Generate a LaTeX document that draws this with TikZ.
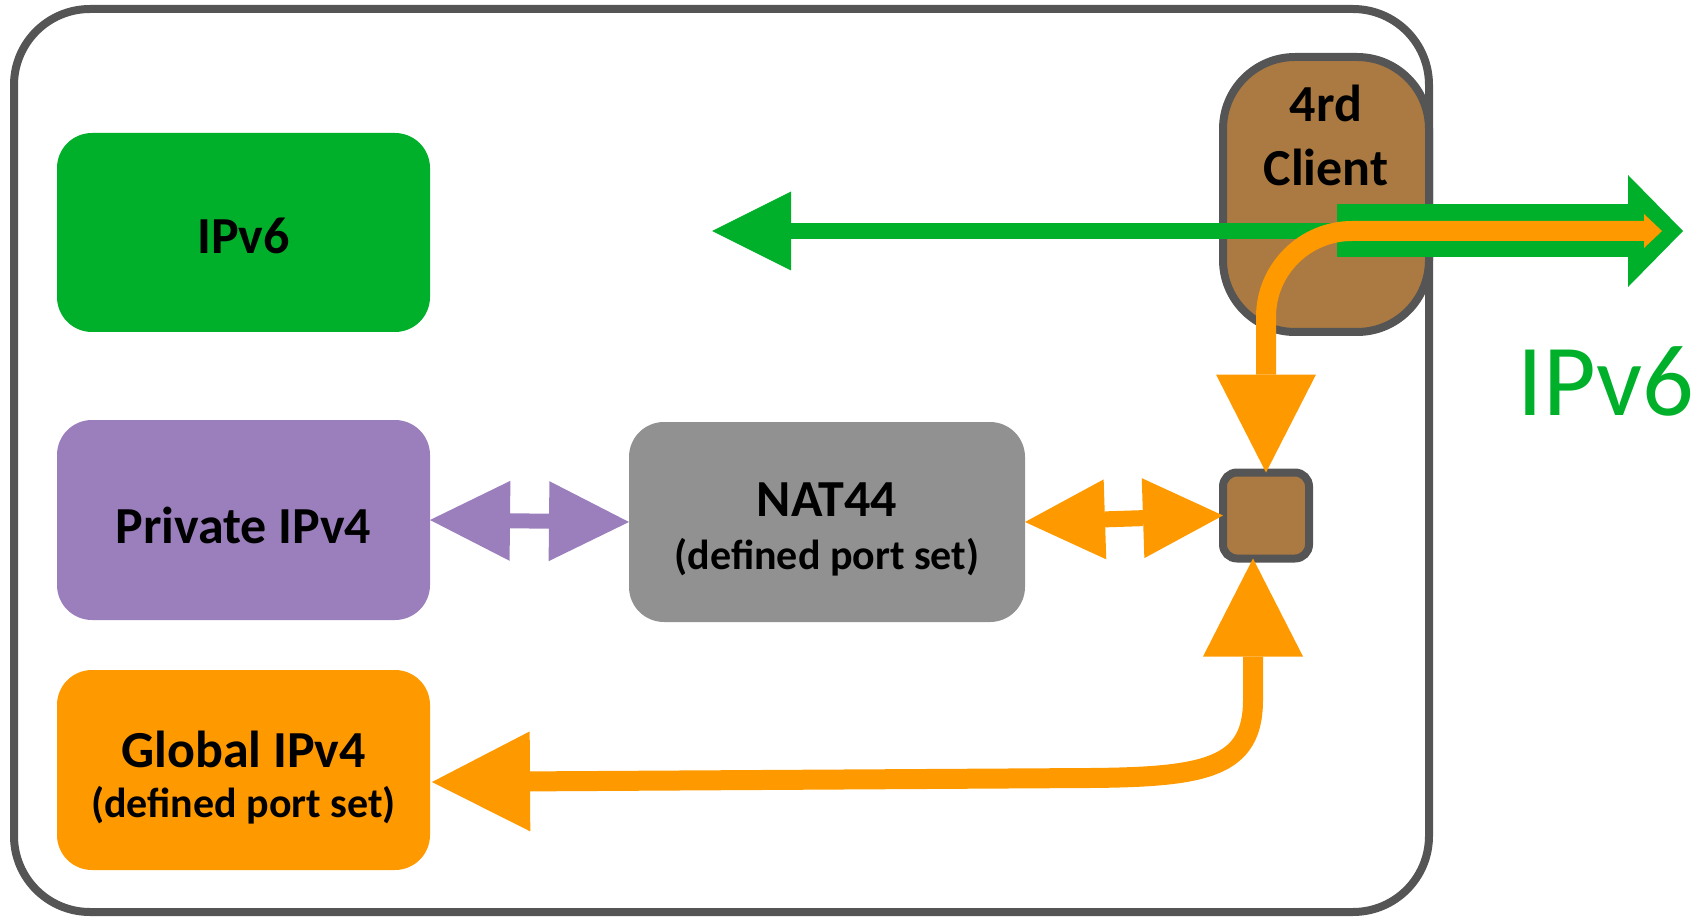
\documentclass[tikz,border=0pt]{standalone}
\usepackage{fontspec}
\setmainfont{Carlito}
\usetikzlibrary{arrows.meta,calc}
\definecolor{cgreen}{HTML}{00B02A}
\definecolor{cpurple}{HTML}{9B7FBD}
\definecolor{cgray}{HTML}{919191}
\definecolor{corange}{HTML}{FF9900}
\definecolor{cbrown}{HTML}{AB7A42}
\definecolor{cline}{HTML}{555555}
\tikzset{
  HeadM/.tip={Triangle[length=80pt,width=80pt,line width=0pt]},
  HeadL/.tip={Triangle[length=98pt,width=100pt,line width=0pt]},
  HeadG/.tip={Triangle[length=79pt,width=79pt,line width=0pt]},
  HeadW/.tip={Triangle[length=55pt,width=112pt,line width=0pt]},
  HeadS/.tip={Triangle[length=18pt,width=34pt,line width=0pt]},
}
\begin{document}
\begin{tikzpicture}[x=1pt,y=-1pt,
  box/.style={rectangle, draw=none, rounded corners=35pt, inner sep=0pt, outer sep=0pt},
  frame/.style={rectangle, draw=cline, line width=8pt, rounded corners=76pt, inner sep=0pt, outer sep=0pt},
  lbl/.style={font=\bfseries\fontsize{52}{60}\selectfont, inner sep=0pt},
  sublbl/.style={font=\bfseries\fontsize{42}{50}\selectfont, inner sep=0pt},
  bigtxt/.style={font=\fontsize{102}{110}\selectfont, text=cgreen, inner sep=0pt},
  purplearrow/.style={draw=cpurple, line width=15pt, {HeadM}-{HeadM}},
  orangedouble/.style={draw=corange, line width=16pt, {HeadM}-{HeadM}},
  orangetop/.style={draw=corange, line width=20pt, rounded corners=86pt, {HeadS}-{HeadL}},
  orangebottom/.style={draw=corange, line width=20pt, {HeadL}-{HeadL}},
  greenleft/.style={draw=cgreen, line width=16pt, -{HeadG}},
  greenwide/.style={draw=cgreen, line width=53pt, -{HeadW}},
]
\useasboundingbox (0,0) rectangle (1706,917);

\node[frame, minimum width=1415pt, minimum height=903pt] (frame) at (721.5,460.5) {};

\node[box, fill=cgreen, minimum width=373pt, minimum height=199pt] (v6) at (243.5,232.5) {};
\node[box, fill=cpurple, minimum width=373pt, minimum height=200pt] (priv) at (243.5,520) {};
\node[box, fill=corange, minimum width=373pt, minimum height=200pt] (glob) at (243.5,770) {};
\node[box, fill=cgray, minimum width=396pt, minimum height=200pt] (nat) at (827,522) {};

\node[rectangle, draw=cline, fill=cbrown, line width=8pt, rounded corners=72pt,
      minimum width=206pt, minimum height=275pt, inner sep=0pt, outer sep=0pt] (client) at (1326,194.5) {};
\node[rectangle, draw=cline, fill=cbrown, line width=8pt, rounded corners=14pt,
      minimum size=86pt, inner sep=0pt, outer sep=0pt] (sq) at (1266,515.5) {};

\coordinate (gstart) at (1337,231);
\coordinate (gtipL) at (712,231);
\coordinate (gtipR) at (1683,231);
\coordinate (oexit) at (1662,231);
\coordinate (gtip) at (432,782);

\draw[purplearrow] (priv.east) -- (nat.west);
\draw[orangedouble] (nat.east) -- (sq.west);
\draw[greenleft] (gstart) -- (gtipL);
\draw[greenwide] (gstart) -- (gtipR);
\draw[orangetop] (oexit) -| (sq.north);
\draw[orangebottom] ([xshift=-13pt]sq.south) -- (1253,700) .. controls (1253,768) and (1205,777) .. (1090,778) -- (gtip);

\node[lbl] (t1) at ([yshift=-3pt]v6.center) {IPv6};
\node[lbl] (t2) at ([yshift=-5pt]priv.center) {Private IPv4};
\node[lbl] (t3) at ([yshift=22pt]nat.center) {NAT44};
\node[sublbl] (t4) at ([yshift=-35pt]nat.center) {(defined port set)};
\node[lbl] (t5) at ([yshift=21pt]glob.center) {Global IPv4};
\node[sublbl] (t6) at ([yshift=-35pt]glob.center) {(defined port set)};
\node[lbl] (t7) at ([yshift=91.5pt]client.center) {4rd};
\node[lbl] (t8) at ([yshift=27.5pt]client.center) {Client};
\node[bigtxt] (t9) at (1606,381) {IPv6};
\end{tikzpicture}
\end{document}
